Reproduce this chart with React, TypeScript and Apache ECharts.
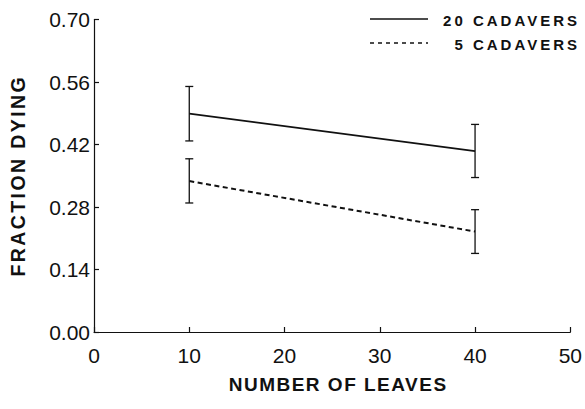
import React, { useEffect, useRef } from "react";
import * as echarts from "echarts";

// Number of leaves (x values)
const leaves = [10, 40];
const seriesNames = ["20 CADAVERS", "5 CADAVERS"];
// Fraction dying: means and error-bar limits
const mean20 = [0.489, 0.405];
const low20 = [0.428, 0.346];
const high20 = [0.55, 0.465];
const mean5 = [0.338, 0.225];
const low5 = [0.289, 0.176];
const high5 = [0.388, 0.274];
const xTicks = [0, 10, 20, 30, 40, 50];
const yTicks = [0, 0.14, 0.28, 0.42, 0.56, 0.7];
const xTitle = "NUMBER OF LEAVES";
const yTitle = "FRACTION DYING";

const INK = "#111";
const FONT = "'Liberation Sans', Arial, Helvetica, sans-serif";

function errorSeries(lo: number[], hi: number[]) {
  return {
    type: "custom",
    silent: true,
    data: leaves.map((x, i) => [x, lo[i], hi[i]]),
    renderItem: (params: any, api: any) => {
      const x = api.value(0);
      const pLo = api.coord([x, api.value(1)]);
      const pHi = api.coord([x, api.value(2)]);
      const w = 4;
      const st = { stroke: INK, lineWidth: 1.3 };
      return {
        type: "group",
        children: [
          { type: "line", shape: { x1: pLo[0], y1: pLo[1], x2: pHi[0], y2: pHi[1] }, style: st },
          { type: "line", shape: { x1: pLo[0] - w, y1: pLo[1], x2: pLo[0] + w, y2: pLo[1] }, style: st },
          { type: "line", shape: { x1: pHi[0] - w, y1: pHi[1], x2: pHi[0] + w, y2: pHi[1] }, style: st },
        ],
      };
    },
  };
}

export default function App() {
  const ref = useRef<HTMLDivElement>(null);
  useEffect(() => {
    if (!ref.current) return;
    const chart = echarts.init(ref.current, null, { renderer: "svg" });
    const yMax = yTicks[yTicks.length - 1];
    const yInt = yTicks[1] - yTicks[0];
    const xInt = xTicks[1] - xTicks[0];
    const legendText = (text: string, y: number) => ({
      type: "text",
      x: 580,
      y,
      style: {
        text,
        fontFamily: FONT,
        fontSize: 15,
        fontWeight: "bold",
        fill: INK,
        textAlign: "right",
        textVerticalAlign: "middle",
      },
    });
    chart.setOption({
      animation: false,
      backgroundColor: "#fff",
      grid: { left: 94, right: 11, top: 19.5, bottom: 77 },
      xAxis: {
        type: "value",
        min: xTicks[0],
        max: xTicks[xTicks.length - 1],
        interval: xInt,
        name: xTitle,
        nameLocation: "middle",
        nameGap: 43,
        nameTextStyle: {
          fontFamily: FONT,
          fontSize: 19,
          fontWeight: "bold",
          color: INK,
          padding: [0, 0, 0, 12],
        },
        axisLine: { lineStyle: { color: INK, width: 1.2 } },
        axisTick: { inside: true, length: 5, lineStyle: { color: INK, width: 1.2 } },
        axisLabel: { fontFamily: FONT, fontSize: 21, color: INK, margin: 13 },
        splitLine: { show: false },
      },
      yAxis: {
        type: "value",
        min: 0,
        max: yMax,
        interval: yInt,
        name: yTitle,
        nameLocation: "middle",
        nameGap: 66,
        nameTextStyle: { fontFamily: FONT, fontSize: 19.5, fontWeight: "bold", color: INK },
        axisLine: { show: true, lineStyle: { color: INK, width: 1.2 } },
        axisTick: { show: true, inside: true, length: 5, lineStyle: { color: INK, width: 1.2 } },
        axisLabel: {
          fontFamily: FONT,
          fontSize: 21,
          color: INK,
          margin: 4,
          formatter: (v: number) => v.toFixed(2),
        },
        splitLine: { show: false },
      },
      graphic: [
        { type: "line", shape: { x1: 370, y1: 19, x2: 428, y2: 19 }, style: { stroke: INK, lineWidth: 1.6 } },
        {
          type: "line",
          shape: { x1: 370, y1: 43, x2: 428, y2: 43 },
          style: { stroke: INK, lineWidth: 1.6, lineDash: [4, 4] },
        },
        legendText(seriesNames[0], 20),
        legendText(seriesNames[1], 44.5),
      ],
      series: [
        {
          name: seriesNames[0],
          type: "line",
          data: leaves.map((x, i) => [x, mean20[i]]),
          showSymbol: false,
          symbol: "none",
          lineStyle: { color: INK, width: 1.8, type: "solid" },
        },
        {
          name: seriesNames[1],
          type: "line",
          data: leaves.map((x, i) => [x, mean5[i]]),
          showSymbol: false,
          symbol: "none",
          lineStyle: { color: INK, width: 2, type: [5, 3.5] },
        },
        errorSeries(low20, high20),
        errorSeries(low5, high5),
      ],
    });
    return () => chart.dispose();
  }, []);
  return (
    <>
      <style>{`
        .fig text[style*="15px"] { letter-spacing: 3px; }
        .fig text[style*="19px"] { letter-spacing: 1.5px; }
        .fig text[style*="19.5px"] { letter-spacing: 2.4px; }
      `}</style>
      <div
        ref={ref}
        className="fig"
        style={{ position: "absolute", left: 0, top: 0, width: 585, height: 409, background: "#fff" }}
      />
    </>
  );
}
